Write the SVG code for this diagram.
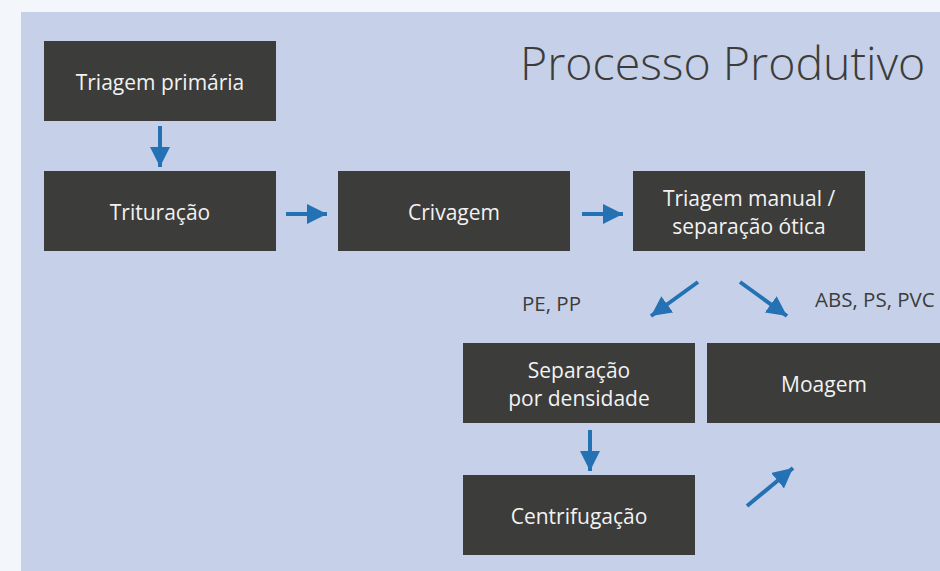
<svg xmlns="http://www.w3.org/2000/svg" width="940" height="571" viewBox="0 0 940 571">
<defs>
<style>
.node rect{fill:#3c3c3b;}
.node text{fill:#f2f2f2;font-family:"Open Sans","Noto Sans",sans-serif;font-size:21px;text-anchor:middle;}
.lbl{fill:#3c3c3b;font-family:"Open Sans","Noto Sans",sans-serif;font-size:20.5px;}
.title{fill:#3c3c3b;font-family:"Open Sans","Noto Sans",sans-serif;font-weight:300;font-size:46.5px;}
.conn line{stroke:#2471b4;stroke-width:4;}
</style>
<marker id="ah" viewBox="0 0 20 20" refX="20" refY="10" markerWidth="20" markerHeight="20" markerUnits="userSpaceOnUse" orient="auto">
<path d="M0,0 L20,10 L0,20 Z" fill="#2471b4"/>
</marker>
</defs>
<rect x="0" y="0" width="940" height="571" fill="#f3f7fb"/>
<rect x="21" y="12" width="919" height="559" fill="#c6d1e9"/>
<text class="title" x="520" y="80">Processo Produtivo</text>
<g id="n1" class="node"><rect x="44" y="41" width="232" height="80"/><text x="160" y="90">Triagem primária</text></g>
<g id="n2" class="node"><rect x="44" y="171" width="232" height="80"/><text x="160" y="220">Trituração</text></g>
<g id="n3" class="node"><rect x="338" y="171" width="232" height="80"/><text x="454" y="220">Crivagem</text></g>
<g id="n4" class="node"><rect x="633" y="171" width="232" height="80"/><text x="749" y="206">Triagem manual /</text><text x="749" y="234">separação ótica</text></g>
<g id="n5" class="node"><rect x="463" y="343" width="232" height="80"/><text x="579" y="378">Separação</text><text x="579" y="406">por densidade</text></g>
<g id="n6" class="node"><rect x="707" y="343" width="240" height="80"/><text x="824" y="392">Moagem</text></g>
<g id="n7" class="node"><rect x="463" y="475" width="232" height="80"/><text x="579" y="524">Centrifugação</text></g>
<text class="lbl" x="522" y="311">PE, PP</text>
<text class="lbl" x="815" y="307">ABS, PS, PVC</text>
<g id="connectors" class="conn">
<line x1="160" y1="126" x2="160" y2="167" marker-end="url(#ah)"/>
<line x1="286" y1="214" x2="327" y2="214" marker-end="url(#ah)"/>
<line x1="582" y1="214" x2="623" y2="214" marker-end="url(#ah)"/>
<line x1="698" y1="282" x2="651" y2="316" marker-end="url(#ah)"/>
<line x1="740" y1="282" x2="787" y2="316" marker-end="url(#ah)"/>
<line x1="590" y1="430" x2="590" y2="471" marker-end="url(#ah)"/>
<line x1="747" y1="506" x2="793" y2="468" marker-end="url(#ah)"/>
</g>
</svg>
